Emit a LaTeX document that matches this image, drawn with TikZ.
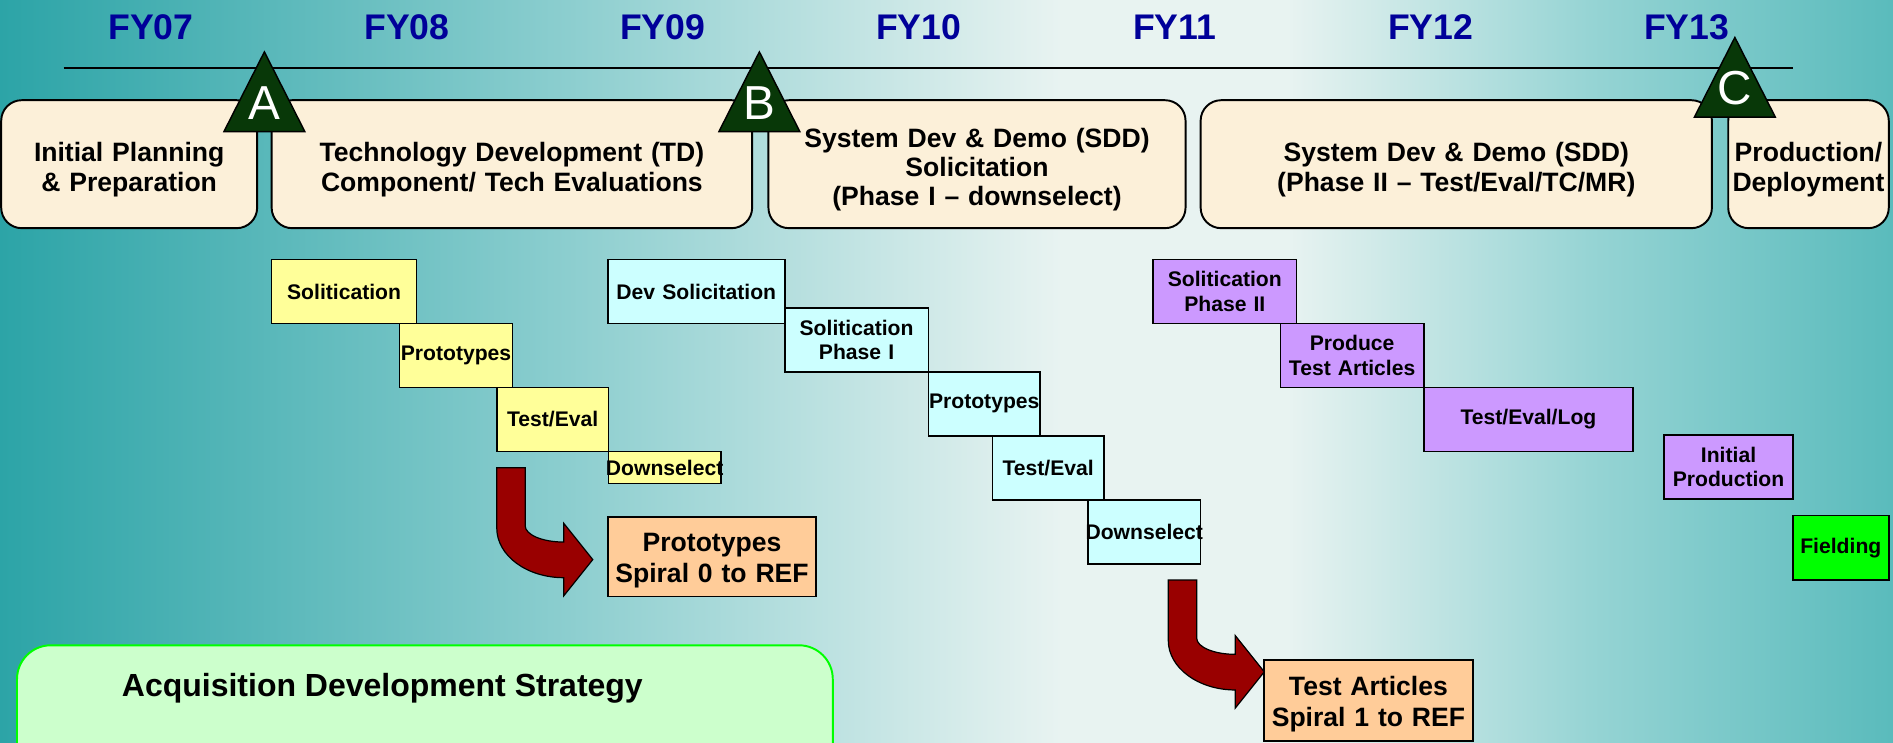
\documentclass[tikz,border=0pt]{standalone}
\usepackage{fontspec}
\setmainfont{Liberation Sans}
\usepackage{tikz}
\usepackage{xcolor}
\usetikzlibrary{positioning}

\definecolor{fyblue}{RGB}{0,0,153}
\definecolor{phasecream}{RGB}{252,240,217}
\definecolor{milegreen}{RGB}{8,56,8}
\definecolor{stepyellow}{RGB}{255,255,153}
\definecolor{stepcyan}{RGB}{204,255,255}
\definecolor{steppurple}{RGB}{204,153,255}
\definecolor{fieldgreen}{RGB}{0,255,0}
\definecolor{resultorange}{RGB}{255,204,153}
\definecolor{arrowred}{RGB}{153,0,0}
\definecolor{stratfill}{RGB}{204,255,204}
\definecolor{stratline}{RGB}{0,255,0}
\definecolor{bgleft}{RGB}{44,164,167}
\definecolor{bgmidleft}{RGB}{140,206,207}
\definecolor{bglight}{RGB}{232,243,241}
\definecolor{bgmidright}{RGB}{150,212,212}
\definecolor{bgright}{RGB}{90,187,188}
\pgfdeclarehorizontalshading{bgsweep}{100bp}{color(0bp)=(bgleft); color(25bp)=(bgleft); color(40bp)=(bgmidleft); color(53bp)=(bglight); color(59bp)=(bglight); color(67bp)=(bgmidright); color(75bp)=(bgright); color(100bp)=(bgright)}
\newcommand{\overhang}[1]{\makebox[0pt]{#1}}

\begin{document}
\begin{tikzpicture}[x=1pt, y=-1pt, node distance=212pt, on grid,
    fy/.style={text=fyblue, inner sep=0pt, font=\fontsize{29.5}{34}\selectfont\bfseries},
    phase/.style={draw=black, line width=1.6pt, fill=phasecream, rounded corners=17pt, anchor=north west, align=center, inner xsep=0pt, inner ysep=0pt, outer sep=0pt, minimum height=106pt, font=\fontsize{22}{25.6}\selectfont\bfseries, execute at begin node={\rule{0pt}{25pt}}},
    stepbox/.style={draw=black, line width=1.3pt, anchor=north west, align=center, inner xsep=0pt, inner ysep=0pt, outer sep=0pt, minimum height=53pt, font=\fontsize{17.5}{20.2}\selectfont\bfseries},
    ybox/.style={stepbox, fill=stepyellow},
    cbox/.style={stepbox, fill=stepcyan},
    pbox/.style={stepbox, fill=steppurple},
    gbox/.style={stepbox, fill=fieldgreen},
    result/.style={draw=black, line width=1.3pt, fill=resultorange, anchor=north west, align=center, inner xsep=0pt, inner ysep=0pt, outer sep=0pt, font=\fontsize{22}{26.2}\selectfont\bfseries, execute at begin node={\rule{0pt}{22pt}}},
    milestone/.pic={
        \filldraw[fill=milegreen, draw=black, line width=1.2pt] (0,0) -- (33.5,66) -- (-33.5,66) -- cycle;
        \node[text=white, inner sep=0pt, font=\fontsize{39.5}{40}\selectfont] (-letter) at (0,42.3) {#1};
    },
    bentarrow/.pic={
        \filldraw[fill=arrowred, draw=black, line width=1pt]
        (0,0) -- (23.5,0) -- (23.5,48)
        arc[start angle=180, end angle=90, x radius=32, y radius=13.5]
        -- (55.5,46) -- (79.5,76) -- (55.5,106) -- (55.5,91)
        arc[start angle=90, end angle=180, x radius=55.5, y radius=41]
        -- cycle;
    }]

            \useasboundingbox (0,0) rectangle (1568,615);
            \clip (0,0) rectangle (1568,615);
            \shade[shading=bgsweep] (0,0) rectangle (1568,615);

            \node[fy] (fy07) at (125,22.8) {FY07};
            \node[fy, right=of fy07] (fy08) {FY08};
            \node[fy, right=of fy08] (fy09) {FY09};
            \node[fy, right=of fy09] (fy10) {FY10};
            \node[fy, right=of fy10] (fy11) {FY11};
            \node[fy, right=of fy11] (fy12) {FY12};
            \node[fy, right=of fy12] (fy13) {FY13};

            \coordinate (tlstart) at (52.8,56.6);
            \coordinate (tlend) at (1485,56.6);
            \draw[line width=1.4pt] (tlstart) -- (tlend);

            \node[phase, text width=212pt] (plan) at (1,83) {Initial Planning\\\& Preparation};
            \node[phase, text width=398pt] (techdev) at (225,83) {Technology Development (TD)\\Component/ Tech Evaluations};
            \node[phase, text width=345.5pt, font=\fontsize{22}{24}\selectfont\bfseries] (sddone) at (636.5,83) {System Dev \& Demo (SDD)\\Solicitation\\(Phase I -- downselect)};
            \node[phase, text width=423.5pt] (sddtwo) at (994.5,83) {System Dev \& Demo (SDD)\\(Phase II -- Test/Eval/TC/MR)};
            \node[phase, text width=133pt] (prod) at (1431.5,83) {Production/\\Deployment};

            \pic (msA) at (219,43) {milestone=A};
            \pic (msB) at (629,43) {milestone=B};
            \pic (msC) at (1437,31) {milestone=C};

            \node[ybox, text width=120pt] (ysol) at (225,215) {Solitication};
            \node[ybox, text width=93.5pt] (yproto) at ([xshift=-14pt]ysol.south east) {Prototypes};
            \node[ybox, text width=92.5pt] (ytest) at ([xshift=-13pt]yproto.south east) {Test/Eval};
            \node[ybox, text width=93pt, minimum height=26.5pt] (ydown) at (ytest.south east) {\overhang{Downselect}};

            \node[cbox, text width=146.5pt] (cdev) at (503.5,215) {Dev Solicitation};
            \node[cbox, text width=119pt] (csol) at ([yshift=13pt]cdev.south east) {Solitication\\Phase I};
            \node[cbox, text width=92.5pt] (cproto) at (csol.south east) {Prototypes};
            \node[cbox, text width=92.5pt] (ctest) at ([xshift=-39.5pt]cproto.south east) {Test/Eval};
            \node[cbox, text width=93.5pt] (cdown) at ([xshift=-13.5pt]ctest.south east) {\overhang{Downselect}};

            \node[pbox, text width=119pt] (psol) at (955,215) {Solitication\\Phase II};
            \node[pbox, text width=119pt] (pprod) at ([xshift=-13.5pt]psol.south east) {Produce\\Test Articles};
            \node[pbox, text width=173pt] (ptest) at (pprod.south east) {Test/Eval/Log};
            \node[pbox, text width=106.5pt] (pinit) at ([xshift=26pt, yshift=13.5pt]ptest.south east) {Initial\\Production};
            \node[gbox, text width=79.5pt, minimum height=53.5pt] (field) at ([yshift=-13.5pt]pinit.south east) {Fielding};

            \node[result, text width=172.5pt, minimum height=66pt] (spiralzero) at (503.5,428) {Prototypes\\Spiral 0 to REF};
            \node[result, text width=173pt, minimum height=67.5pt] (spiralone) at (1047,546.5) {Test Articles\\Spiral 1 to REF};

            \pic (arrowzero) at ([yshift=-13.5pt]ytest.south west) {bentarrow};
            \pic (arrowone) at ([xshift=66.7pt, yshift=-13.5pt]cdown.south west) {bentarrow};

            \node[draw=stratline, fill=stratfill, line width=1.6pt, rounded corners=28pt, anchor=north west, minimum width=675.7pt, minimum height=160pt, inner sep=0pt] (strategy) at (13.3,533.7) {};
            \node[anchor=base west, inner sep=0pt, font=\fontsize{26.5}{30}\selectfont\bfseries] (stratlabel) at (100.8,577) {Acquisition Development Strategy};

        \end{tikzpicture}
\end{document}
